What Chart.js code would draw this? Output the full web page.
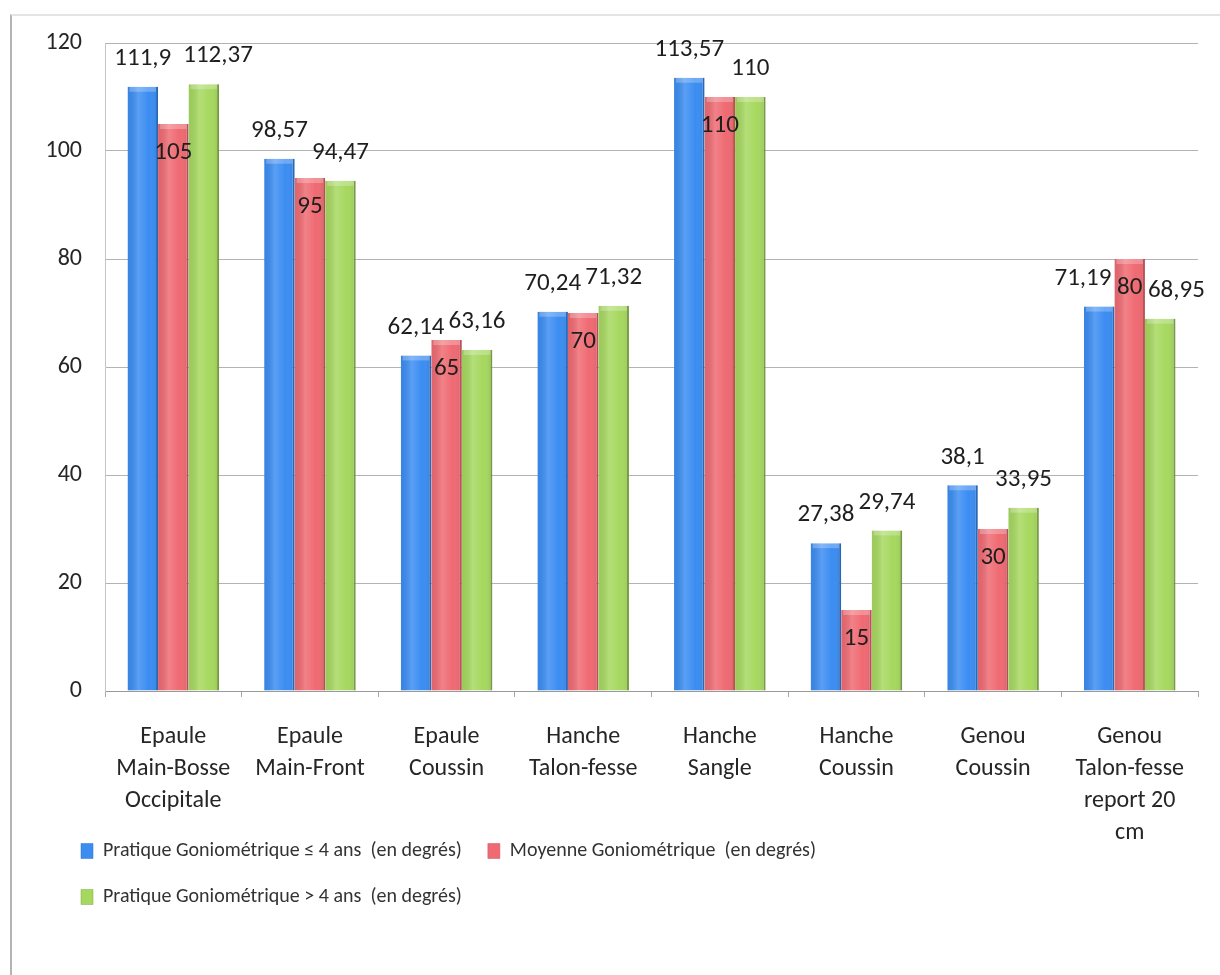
<!DOCTYPE html>
<html>
<head>
<meta charset="utf-8">
<script src="https://cdn.jsdelivr.net/npm/chart.js@4.4.1/dist/chart.umd.min.js"></script>
<style>
  body { margin: 0; background: #fff; }
  #wrap { position: relative; width: 1220px; height: 975px; }
  #frame { position: absolute; left: 10px; top: 14px; right: 0; bottom: 0;
           border-left: 2px solid #b4b4b4; border-top: 2px solid #e4e4e4; }
  canvas { position: absolute; left: 0; top: 0; }
</style>
</head>
<body>
<div id="wrap">
  <div id="frame"></div>
  <canvas id="chart" width="1220" height="975"></canvas>
</div>
<script>
const categories = [
  ["Epaule", "Main-Bosse", "Occipitale"],
  ["Epaule", "Main-Front"],
  ["Epaule", "Coussin"],
  ["Hanche", "Talon-fesse"],
  ["Hanche", "Sangle"],
  ["Hanche", "Coussin"],
  ["Genou", "Coussin"],
  ["Genou", "Talon-fesse", "report 20", "cm"]
];
const pratiqueMoins4 = [111.9, 98.57, 62.14, 70.24, 113.57, 27.38, 38.1, 71.19];
const moyenne = [105, 95, 65, 70, 110, 15, 30, 80];
const pratiquePlus4 = [112.37, 94.47, 63.16, 71.32, 110, 29.74, 33.95, 68.95];
const yTicks = [0, 20, 40, 60, 80, 100, 120];

const FONT = "Carlito, Calibri, Lato, sans-serif";

const fmt = v => String(v).replace(".", ",");

// light sheen across each bar plus a paler cap, for the rounded office look
const barShade = {
  id: "barShade",
  afterDatasetsDraw(chart) {
    const ctx = chart.ctx;
    ctx.save();
    chart.data.datasets.forEach((ds, d) => {
      chart.getDatasetMeta(d).data.forEach(bar => {
        const l = bar.x - bar.width / 2;
        const w = bar.width;
        const g = ctx.createLinearGradient(l, 0, l + w, 0);
        g.addColorStop(0, "rgba(0,0,0,0.06)");
        g.addColorStop(0.35, "rgba(255,255,255,0.16)");
        g.addColorStop(0.7, "rgba(255,255,255,0)");
        g.addColorStop(1, "rgba(0,0,0,0.10)");
        ctx.fillStyle = g;
        ctx.fillRect(l, bar.y, w, bar.base - bar.y);
        ctx.fillStyle = "rgba(255,255,255,0.25)";
        ctx.fillRect(l + 2, bar.y, w - 4, 5);
      });
    });
    ctx.restore();
  }
};

// value labels: blue/green above the bar, red inside near the top.
// a label slides sideways when it would sit on the taller red bar or on the previous label
const valueLabels = {
  id: "valueLabels",
  afterDatasetsDraw(chart) {
    const ctx = chart.ctx;
    ctx.save();
    ctx.font = "25px " + FONT;
    ctx.textAlign = "center";
    ctx.textBaseline = "middle";
    ctx.fillStyle = "#1e1e1e";
    const metas = [0, 1, 2].map(i => chart.getDatasetMeta(i));
    const h = 24;
    const overlaps = (a, b) => a.l < b.r && a.r > b.l && a.t < b.b && a.b > b.t;
    categories.forEach((c, i) => {
      const red = metas[1].data[i];
      const redBox = { l: red.x - red.width / 2, r: red.x + red.width / 2, t: red.y, b: chart.chartArea.bottom };
      let prev = null;
      [0, 2].forEach(d => {
        const bar = metas[d].data[i];
        const text = fmt(chart.data.datasets[d].data[i]);
        const w = ctx.measureText(text).width;
        const y = bar.y - 28;
        let box = { l: bar.x - w / 2, r: bar.x + w / 2, t: y - h / 2, b: y + h / 2 };
        if (overlaps(box, redBox)) {
          const shift = d === 0 ? redBox.l - 3 - box.r : redBox.r + 3 - box.l;
          box.l += shift; box.r += shift;
        }
        if (prev && overlaps(box, prev)) {
          const shift = prev.r + 12 - box.l;
          box.l += shift; box.r += shift;
        }
        ctx.fillText(text, (box.l + box.r) / 2, y);
        prev = box;
      });
      ctx.fillText(fmt(chart.data.datasets[1].data[i]), red.x, red.y + 29);
    });
    ctx.restore();
  }
};

// legend sits just under the short category labels, lined up with the y tick labels
const legendPlace = {
  id: "legendPlace",
  afterLayout(chart) {
    const lg = chart.legend;
    const h = lg.bottom - lg.top;
    lg.left = 55;
    lg.top = chart.chartArea.bottom + 124;
    lg.bottom = lg.top + h;
  }
};

new Chart(document.getElementById("chart"), {
  type: "bar",
  data: {
    labels: categories,
    datasets: [
      {
        label: "Pratique Goniométrique ≤ 4 ans  (en degrés)",
        data: pratiqueMoins4,
        backgroundColor: "#3b8df2",
        borderColor: "#2a6fc8",
        borderWidth: { left: 0, top: 0, right: 2, bottom: 0 },
        borderSkipped: false
      },
      {
        label: "Moyenne Goniométrique  (en degrés)",
        data: moyenne,
        backgroundColor: "#ef6a72",
        borderColor: "#c9545b",
        borderWidth: { left: 0, top: 0, right: 2, bottom: 0 },
        borderSkipped: false
      },
      {
        label: "Pratique Goniométrique > 4 ans  (en degrés)",
        data: pratiquePlus4,
        backgroundColor: "#a6d85f",
        borderColor: "#7fa844",
        borderWidth: { left: 0, top: 0, right: 2, bottom: 0 },
        borderSkipped: false
      }
    ]
  },
  options: {
    responsive: false,
    animation: false,
    layout: { padding: { left: 10, right: 22, top: 43, bottom: 10 } },
    datasets: { bar: { categoryPercentage: 0.67, barPercentage: 1.0 } },
    plugins: {
      tooltip: { enabled: false },
      legend: {
        position: "bottom",
        align: "start",
        labels: {
          font: { family: FONT, size: 20 },
          color: "#333",
          boxWidth: 12,
          boxHeight: 15,
          padding: 26
        }
      }
    },
    scales: {
      x: {
        afterFit: s => { s.height = 172; },
        grid: { drawOnChartArea: false, drawTicks: true, tickLength: 6, color: "#a8a8a8", offset: true },
        border: { color: "#9a9a9a" },
        ticks: {
          font: { family: FONT, size: 24, lineHeight: 1.33 },
          color: "#262626",
          padding: 24,
          maxRotation: 0,
          autoSkip: false
        }
      },
      y: {
        min: 0,
        max: 120,
        afterFit: s => { s.width = 95; },
        afterBuildTicks: s => { s.ticks = yTicks.map(v => ({ value: v })); },
        grid: { color: "#b3b3b3", drawTicks: false },
        border: { color: "#c4c4c4" },
        ticks: {
          font: { family: FONT, size: 24 },
          color: "#262626",
          padding: 23
        }
      }
    }
  },
  plugins: [barShade, valueLabels, legendPlace]
});
</script>
</body>
</html>
